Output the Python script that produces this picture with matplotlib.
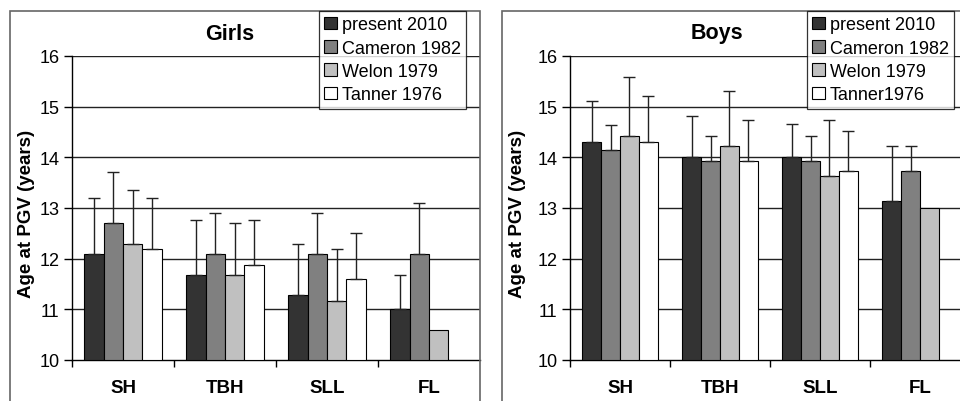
import numpy as np
import matplotlib.pyplot as plt
from matplotlib.patches import Rectangle, Patch

plt.rcParams['font.family'] = ['Liberation Sans', 'DejaVu Sans']

categories = ['SH', 'TBH', 'SLL', 'FL']
series = ['present 2010', 'Cameron 1982', 'Welon 1979', 'Tanner 1976']
series_boys = ['present 2010', 'Cameron 1982', 'Welon 1979', 'Tanner1976']
colors = ['#333333', '#808080', '#c0c0c0', '#ffffff']

# mean age at PGV (nan = no bar)
girls_mean = [
    [12.1, 11.68, 11.28, 11.0],
    [12.7, 12.1, 12.1, 12.1],
    [12.28, 11.68, 11.17, 10.6],
    [12.2, 11.88, 11.6, np.nan],
]
girls_top = [
    [13.2, 12.77, 12.28, 11.68],
    [13.71, 12.9, 12.9, 13.09],
    [13.36, 12.7, 12.2, np.nan],
    [13.2, 12.77, 12.5, np.nan],
]
boys_mean = [
    [14.31, 14.0, 14.0, 13.14],
    [14.14, 13.92, 13.92, 13.74],
    [14.43, 14.23, 13.64, 13.0],
    [14.31, 13.92, 13.74, np.nan],
]
boys_top = [
    [15.11, 14.81, 14.65, 14.23],
    [14.64, 14.43, 14.43, 14.23],
    [15.59, 15.31, 14.73, np.nan],
    [15.22, 14.73, 14.51, np.nan],
]

W, H = 960, 402
fig = plt.figure(figsize=(9.6, 4.02), dpi=100)

def fx(px):
    return px / W

def fy(py):
    return 1 - py / H

# outer frames (cropped at the bottom/right)
for x0, x1 in [(10, 480), (502, 965)]:
    fig.patches.append(Rectangle((fx(x0), fy(420)), fx(x1 - x0), (420 - 12) / H,
                                 transform=fig.transFigure, fill=False,
                                 edgecolor='#666666', lw=1.2, zorder=0))


def panel(ax_left_px, ax_right_px, means, tops, title, title_x, ylab_x, leg_x, labels):
    ax = fig.add_axes([fx(ax_left_px), fy(361), fx(ax_right_px - ax_left_px), (361 - 57) / H])
    ax.set_facecolor('none')
    n = len(categories)
    group = 0.755
    bw = group / 4
    x = np.arange(n)
    for i in range(4):
        pos = x + (1 - group) / 2 + bw * (i + 0.5)
        m = np.array(means[i], dtype=float)
        t = np.array(tops[i], dtype=float)
        ok = ~np.isnan(m)
        ax.bar(pos[ok], m[ok] - 10, bottom=10, width=bw, color=colors[i],
               edgecolor='black', linewidth=0.8, zorder=3)
        ek = ok & ~np.isnan(t)
        ax.errorbar(pos[ek], m[ek], yerr=[np.zeros(ek.sum()), t[ek] - m[ek]],
                    fmt='none', ecolor='#222222', elinewidth=1, capsize=4.3,
                    capthick=1, zorder=4)
    ax.set_xlim(0, n)
    ax.set_ylim(10, 16)
    ax.set_yticks(range(10, 17))
    ax.set_xticks(range(n))
    ax.set_xticklabels([])
    ax.set_xticks(x + 0.5, minor=True)
    ax.set_xticklabels(categories, minor=True, fontsize=13.5, fontweight='bold')
    ax.tick_params(axis='x', which='minor', length=0, pad=14)
    ax.tick_params(axis='x', which='major', length=5, width=1, direction='out')
    ax.tick_params(axis='y', length=6, width=1, direction='out', labelsize=13, pad=3)
    for v in range(11, 17):
        ax.axhline(v, color='#222222', lw=1, zorder=1)
    for s in ['top', 'right']:
        ax.spines[s].set_visible(False)
    ax.spines['left'].set_linewidth(1)
    ax.spines['bottom'].set_linewidth(1)
    fig.text(fx(title_x), fy(34), title, ha='center', va='center',
             fontsize=15.5, fontweight='bold')
    fig.text(fx(ylab_x), fy(214), 'Age at PGV (years)', rotation=90,
             ha='center', va='center', fontsize=13.5, fontweight='bold')
    handles = [Patch(facecolor=c, edgecolor='black', lw=0.8) for c in colors]
    leg = fig.legend(handles, labels, loc='upper left',
                     bbox_to_anchor=(fx(leg_x), fy(12)), fontsize=13,
                     frameon=True, fancybox=False, edgecolor='black',
                     handlelength=0.7, handleheight=0.7, handletextpad=0.25,
                     labelspacing=0.35, borderpad=0.3, borderaxespad=0)
    leg.get_frame().set_linewidth(0.9)
    return ax


panel(72, 480, girls_mean, girls_top, 'Girls', 230, 27, 319, series)
panel(570, 970, boys_mean, boys_top, 'Boys', 717, 518, 807, series_boys)

fig.savefig('out.png', dpi=100)
